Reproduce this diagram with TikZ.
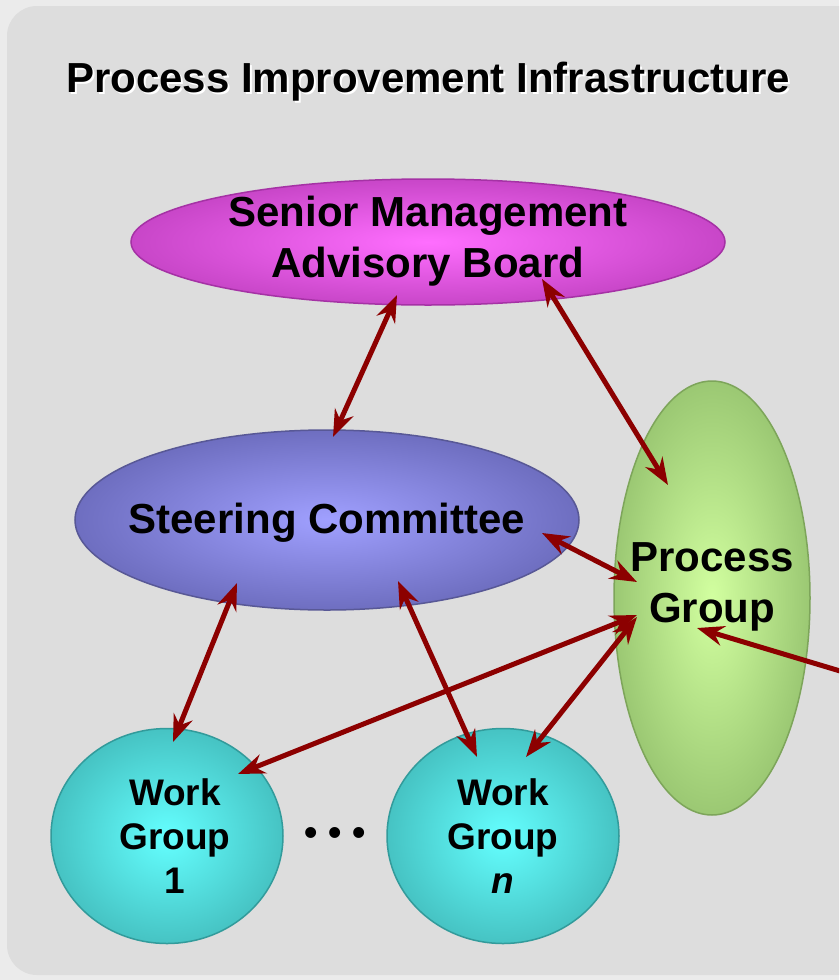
\documentclass[tikz,border=0pt]{standalone}
\usepackage{fontspec}
\setmainfont{Liberation Sans}
\usepackage{tikz}
\usetikzlibrary{shapes}
\usetikzlibrary{arrows.meta}
\usetikzlibrary{calc}

\definecolor{outergray}{RGB}{235,235,235}
\definecolor{panelgray}{RGB}{221,221,221}
\definecolor{arrowred}{RGB}{140,0,0}
\definecolor{smabin}{RGB}{255,110,255}
\definecolor{smabout}{RGB}{200,70,200}
\definecolor{smabedge}{RGB}{165,50,165}
\definecolor{scin}{RGB}{160,160,255}
\definecolor{scout}{RGB}{110,110,192}
\definecolor{scedge}{RGB}{88,88,150}
\definecolor{pgin}{RGB}{210,255,160}
\definecolor{pgout}{RGB}{155,200,115}
\definecolor{pgedge}{RGB}{125,165,90}
\definecolor{wgin}{RGB}{100,255,255}
\definecolor{wgout}{RGB}{70,195,195}
\definecolor{wgedge}{RGB}{50,155,155}

\begin{document}
\begin{tikzpicture}[x=1pt, y=-1pt,
  >={Stealth[length=27pt, width=20pt, inset=9pt]},
  bigtext/.style={align=center, font=\bfseries\fontsize{42}{51}\selectfont},
  group/.style={ellipse, inner sep=0pt, line width=1.5pt},
  worktext/.style={align=center, font=\bfseries\fontsize{37}{44}\selectfont},
  workgroup/.style={group, minimum width=232pt, minimum height=215pt,
    inner color=wgin, outer color=wgout, draw=wgedge},
  link/.style={<->, arrowred, line width=5pt}]
\useasboundingbox (0,0) rectangle (839,980);
\clip (0,0) rectangle (839,980);
\fill[outergray] (0,0) rectangle (839,980);
\fill[panelgray, rounded corners=30pt] (7,6) rectangle (900,975);

% title
\node[anchor=base, white, bigtext] (titleshadow) at (430,94) {Process Improvement Infrastructure};
\node[anchor=base, bigtext] (title) at (428,92) {Process Improvement Infrastructure};

\node[group, minimum width=594pt, minimum height=126pt,
   inner color=smabin, outer color=smabout, draw=smabedge,
   label={[bigtext, yshift=1pt]center:Senior Management\\Advisory Board}] (smab) at (428,242) {};
\node[group, minimum width=504pt, minimum height=180pt,
   inner color=scin, outer color=scout, draw=scedge,
   label={[bigtext, yshift=-3pt]center:Steering Committee}] (sc) at (327,520) {};
\node[group, minimum width=196pt, minimum height=434pt,
   inner color=pgin, outer color=pgout, draw=pgedge,
   label={[bigtext, yshift=11pt]center:Process\\Group}] (pg) at (712,598) {};
\node[workgroup, label={[worktext, xshift=8pt]center:Work\\Group\\1}] (wg1) at (167,836) {};
\node[workgroup, label={[worktext]center:Work\\Group\\\textit{n}}] (wgn) at (503,836) {};
\node[font=\bfseries\fontsize{38}{44}\selectfont] (dots) at (335,836) {• • •};
\coordinate (edge) at (880,683);

\draw[link] ($(smab)+(-31,53)$) -- ($(sc)+(6,-83)$);
\draw[link] ($(smab)+(114,37)$) -- ($(pg)+(-44,-113)$);
\draw[link] ($(sc)+(215,13)$) -- ($(pg)+(-75,-16)$);
\draw[link] ($(sc)+(-90,63)$) -- ($(wg1)+(6,-94)$);
\draw[link] ($(sc)+(71,61)$) -- ($(wgn)+(-26,-79)$);
\draw[link] ($(pg)+(-75,17)$) -- ($(wg1)+(71,-62)$);
\draw[link] ($(pg)+(-75,19)$) -- ($(wgn)+(23,-79)$);
\draw[->, arrowred, line width=5pt] (edge) -- ($(pg)+(-15,30)$);
\end{tikzpicture}
\end{document}
